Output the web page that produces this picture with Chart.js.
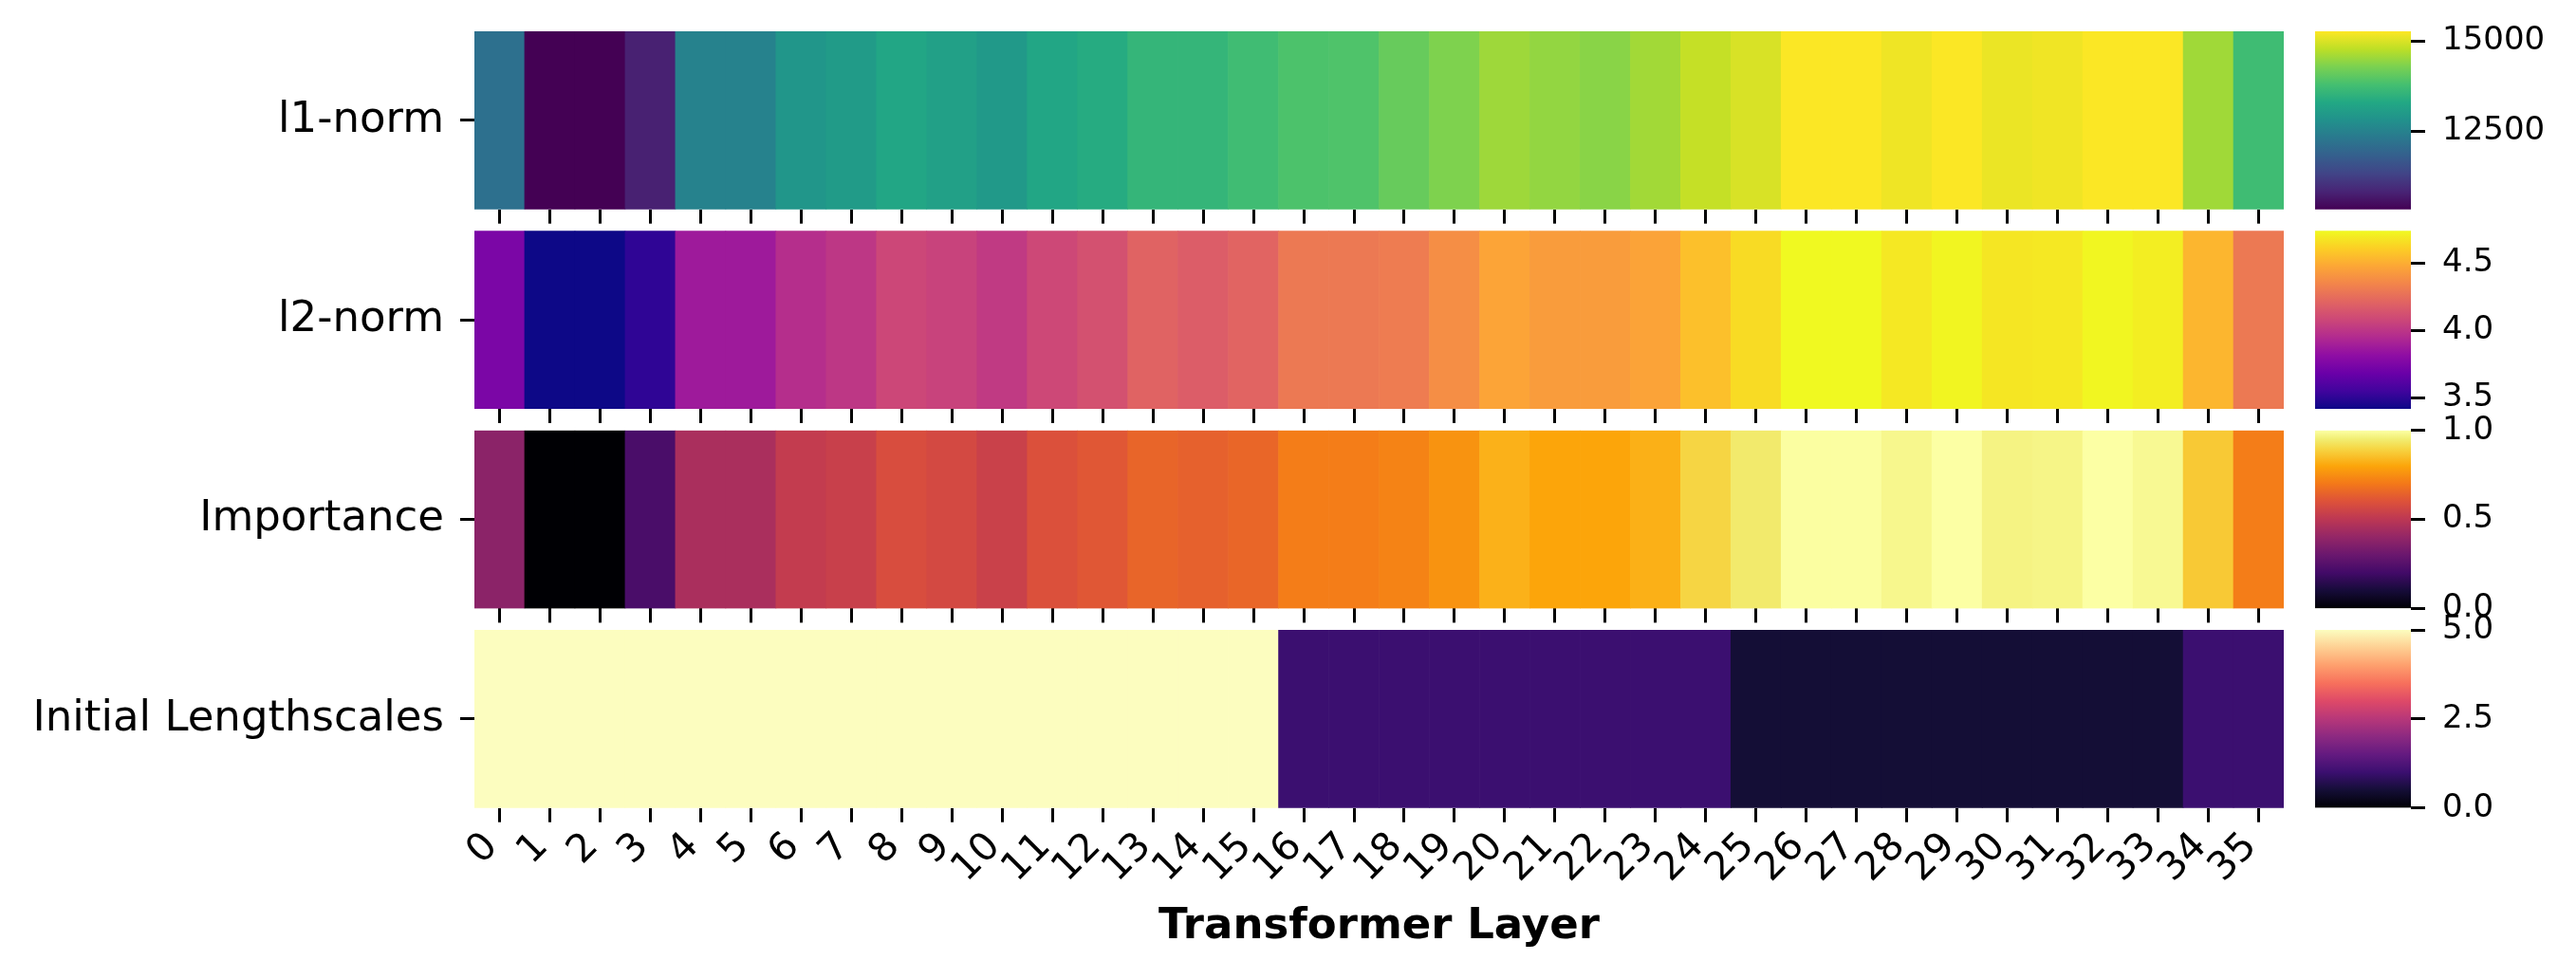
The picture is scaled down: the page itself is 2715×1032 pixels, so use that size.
<!DOCTYPE html>
<html>
<head>
<meta charset="utf-8">
<script src="https://cdn.jsdelivr.net/npm/chart.js@4.4.1/dist/chart.umd.min.js"></script>
<style>
  html, body { margin: 0; padding: 0; background: #fff; }
  #wrap { position: relative; width: 2715px; height: 1032px; overflow: hidden; }
  #wrap canvas { position: absolute; }
</style>
</head>
<body>
<div id="wrap"></div>
<script>
// ---- data ----
const layers = ['0', '1', '2', '3', '4', '5', '6', '7', '8', '9', '10', '11', '12', '13', '14', '15', '16', '17',
  '18', '19', '20', '21', '22', '23', '24', '25', '26', '27', '28', '29', '30', '31', '32', '33', '34', '35'];

const rowNames = ['l1-norm', 'l2-norm', 'Importance', 'Initial Lengthscales'];

const l1Norm = [12153, 10330, 10330, 10775, 12504, 12504, 12899, 13022, 13245, 13121, 12973, 13245,
  13356, 13566, 13566, 13724, 13862, 13887, 14104, 14312, 14544, 14470, 14396, 14578,
  14835, 14988, 15255, 15255, 15161, 15255, 15132, 15171, 15255, 15255, 14564, 13714];

const l2Norm = [3.741, 3.418, 3.418, 3.504, 3.873, 3.873, 3.965, 4.005, 4.078, 4.058, 4.018, 4.084,
  4.124, 4.203, 4.176, 4.209, 4.295, 4.295, 4.308, 4.381, 4.467, 4.434, 4.434, 4.460,
  4.559, 4.645, 4.737, 4.737, 4.684, 4.724, 4.678, 4.684, 4.728, 4.704, 4.526, 4.295];

const importance = [0.38, 0.0, 0.0, 0.22, 0.455, 0.455, 0.52, 0.535, 0.585, 0.57, 0.54, 0.595,
  0.615, 0.65, 0.64, 0.655, 0.71, 0.71, 0.725, 0.76, 0.825, 0.8, 0.8, 0.822,
  0.895, 0.944, 0.997, 0.997, 0.977, 1.0, 0.968, 0.972, 1.0, 0.983, 0.872, 0.71];

const lengthscales = [5, 5, 5, 5, 5, 5, 5, 5, 5, 5, 5, 5, 5, 5, 5, 5,
  1, 1, 1, 1, 1, 1, 1, 1, 1, 0.5, 0.5, 0.5, 0.5, 0.5, 0.5, 0.5, 0.5, 0.5, 1, 1];

const cbarMin = [10330, 3.418, 0, 0];
const cbarMax = [15270, 4.737, 1, 5];
const cbarTicks = [[12500, 15000], [3.5, 4.0, 4.5], [0, 0.5, 1.0], [0, 2.5, 5.0]];
const cbarDecimals = [0, 1, 1, 1];
const cmapNames = ['viridis', 'plasma', 'inferno', 'magma'];

// ---- colormaps: [position, colour] stops ----
const CMAPS = {
  viridis: [[0, '#440154'], [0.1, '#482475'], [0.2, '#414487'], [0.3, '#355f8d'], [0.4, '#2a788e'], [0.5, '#21918c'],
    [0.6, '#22a884'], [0.7, '#44bf70'], [0.8, '#7ad151'], [0.9, '#bddf26'], [1, '#fde725']],
  plasma: [[0, '#0d0887'], [0.1, '#41049d'], [0.2, '#6a00a8'], [0.3, '#8f0da4'], [0.4, '#b12a90'], [0.5, '#cc4778'],
    [0.6, '#e16462'], [0.7, '#f2844b'], [0.8, '#fca636'], [0.9, '#fcce25'], [1, '#f0f921']],
  inferno: [[0, '#000004'], [0.1, '#160b39'], [0.2, '#420a68'], [0.3, '#6a176e'], [0.4, '#932667'], [0.5, '#bc3754'],
    [0.6, '#dd513a'], [0.7, '#f37819'], [0.8, '#fca50a'], [0.9, '#f6d746'], [0.95, '#f1ed71'], [1, '#fcffa4']],
  magma: [[0, '#000004'], [0.1, '#140e36'], [0.2, '#3b0f70'], [0.3, '#641a80'], [0.4, '#8c2981'], [0.5, '#b73779'],
    [0.6, '#de4968'], [0.7, '#f7705c'], [0.8, '#fe9f6d'], [0.9, '#fecf92'], [1, '#fcfdbf']]
};

function hexToRgb(h) {
  return [parseInt(h.slice(1, 3), 16), parseInt(h.slice(3, 5), 16), parseInt(h.slice(5, 7), 16)];
}

function cmap(name, t) {
  const stops = CMAPS[name];
  t = Math.max(0, Math.min(1, t));
  let i = 0;
  while (i < stops.length - 2 && t > stops[i + 1][0]) i++;
  const [t0, c0] = stops[i], [t1, c1] = stops[i + 1];
  const f = (t - t0) / (t1 - t0);
  const a = hexToRgb(c0), b = hexToRgb(c1);
  const c = a.map((v, k) => Math.round(v + (b[k] - v) * f));
  return 'rgb(' + c.join(',') + ')';
}

// ---- layout ----
Chart.defaults.font.family = "'DejaVu Sans', sans-serif";
Chart.defaults.color = '#000';

const rowValues = [l1Norm, l2Norm, importance, lengthscales];
const ROW_TOP = [33, 243.3, 453.7, 664];
const ROW_H = 187.7;
const HEAT_LEFT = 500, HEAT_RIGHT = 2407, ROW_CANVAS_W = 2460;
const CBAR_LEFT = 2440, CBAR_RIGHT = 2541, CBAR_CANVAS_X = 2400, CBAR_CANVAS_W = 315;
const TITLE_BOTTOM = 1004;
const PAD = 60;   // generous room so label overflow never squeezes the plot area

const wrap = document.getElementById('wrap');

function addCanvas(left, top, w, h) {
  const c = document.createElement('canvas');
  c.width = w;
  c.height = h;
  c.style.left = left + 'px';
  c.style.top = top + 'px';
  wrap.appendChild(c);
  return c;
}

const tickGrid = {
  drawOnChartArea: false,
  drawTicks: true,
  tickLength: 15,
  tickWidth: 3,
  tickColor: '#000'
};

// heatmap rows
rowValues.forEach((values, i) => {
  const last = i === rowValues.length - 1;
  const ctop = Math.floor(ROW_TOP[i]) - PAD;
  const padTop = ROW_TOP[i] - ctop;
  const axisH = last ? TITLE_BOTTOM - (ROW_TOP[i] + ROW_H) : 20;
  const padBottom = last ? 0 : PAD;
  const h = Math.ceil(padTop + ROW_H + axisH + padBottom);
  const lo = cbarMin[i], hi = cbarMax[i];

  new Chart(addCanvas(0, ctop, ROW_CANVAS_W, h), {
    type: 'bar',
    data: {
      labels: layers,
      datasets: [{
        data: values.map(() => 1),
        backgroundColor: values.map(v => cmap(cmapNames[i], (v - lo) / (hi - lo))),
        borderWidth: 0,
        barPercentage: 1,
        categoryPercentage: 1
      }]
    },
    options: {
      responsive: false,
      animation: false,
      devicePixelRatio: 1,
      layout: { padding: { left: 0, right: ROW_CANVAS_W - HEAT_RIGHT, top: padTop, bottom: h - padTop - ROW_H - axisH } },
      plugins: { legend: { display: false }, tooltip: { enabled: false } },
      scales: {
        x: {
          offset: true,
          grid: Object.assign({ offset: false }, tickGrid),
          border: { display: false },
          ticks: {
            display: last, autoSkip: false, minRotation: 45, maxRotation: 45,
            padding: 2, labelOffset: -8, font: { size: 41 }
          },
          title: { display: last, text: 'Transformer Layer', font: { size: 45, weight: 'bold' }, padding: 0 },
          afterFit: s => { s.height = axisH; }
        },
        y: {
          min: 0,
          max: 1,
          grid: tickGrid,
          border: { display: false },
          afterBuildTicks: s => { s.ticks = [{ value: 0.5 }]; },
          ticks: { callback: () => rowNames[i], padding: 17, font: { size: 45 } },
          afterFit: s => { s.width = HEAT_LEFT; }
        }
      }
    }
  });
});

// colorbars
cmapNames.forEach((name, i) => {
  const ctop = Math.floor(ROW_TOP[i]) - PAD;
  const padTop = ROW_TOP[i] - ctop;
  const h = Math.ceil(padTop + ROW_H + PAD);
  const padBottom = h - padTop - ROW_H;

  new Chart(addCanvas(CBAR_CANVAS_X, ctop, CBAR_CANVAS_W, h), {
    type: 'bar',
    data: {
      labels: [''],
      datasets: [{
        data: [[cbarMin[i], cbarMax[i]]],
        backgroundColor: ctx => {
          const ca = ctx.chart.chartArea;
          if (!ca) return CMAPS[name][5][1];
          const g = ctx.chart.ctx.createLinearGradient(0, ca.bottom, 0, ca.top);
          CMAPS[name].forEach(([t, c]) => g.addColorStop(t, c));
          return g;
        },
        borderWidth: 0,
        barPercentage: 1,
        categoryPercentage: 1
      }]
    },
    options: {
      responsive: false,
      animation: false,
      devicePixelRatio: 1,
      layout: { padding: { left: CBAR_LEFT - CBAR_CANVAS_X, right: 0, top: padTop, bottom: padBottom } },
      plugins: { legend: { display: false }, tooltip: { enabled: false } },
      scales: {
        x: { display: false },
        y: {
          position: 'right',
          min: cbarMin[i],
          max: cbarMax[i],
          grid: tickGrid,
          border: { display: false },
          afterBuildTicks: s => { s.ticks = cbarTicks[i].map(v => ({ value: v })); },
          ticks: {
            padding: 18,
            font: { size: 34 },
            callback: v => Number(v).toFixed(cbarDecimals[i])
          },
          afterFit: s => { s.width = CBAR_CANVAS_W - (CBAR_RIGHT - CBAR_CANVAS_X); }
        }
      }
    }
  });
});
</script>
</body>
</html>
